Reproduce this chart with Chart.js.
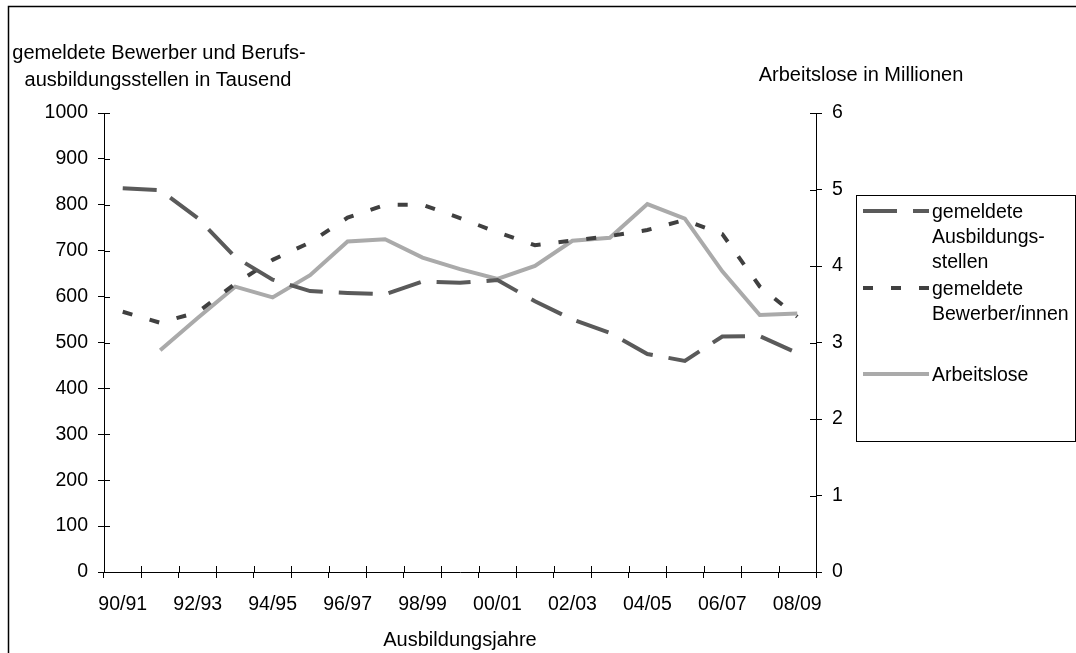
<!DOCTYPE html>
<html>
<head>
<meta charset="utf-8">
<style>
  html, body { margin: 0; padding: 0; background: #fff; }
  #wrap { width: 1076px; height: 653px; position: relative; }
</style>
<script src="https://cdn.jsdelivr.net/npm/chart.js@4/dist/chart.umd.min.js"></script>
</head>
<body>
<div id="wrap"><canvas id="c" width="1076" height="653"></canvas></div>
<script>
// Ausbildungsjahre 1990/91 bis 2008/09
const years = ['90/91','91/92','92/93','93/94','94/95','95/96','96/97','97/98','98/99','99/00',
               '00/01','01/02','02/03','03/04','04/05','05/06','06/07','07/08','08/09'];

// gemeldete Berufsausbildungsstellen (Tausend)
const stellen = [836, 832, 771, 686, 637, 612, 608, 605, 633, 630, 636, 590, 550, 521, 475, 460, 513, 514, 477];

// gemeldete Bewerber/innen (Tausend)
const bewerber = [567, 543, 566, 628, 680, 718, 772, 800, 800, 771, 740, 712, 722, 732, 745, 767, 736, 622, 556];

// Arbeitslose (Millionen), ab 91/92
const arbeitslose = [null, 2.90, 3.32, 3.73, 3.59, 3.88, 4.32, 4.35, 4.11, 3.96, 3.83, 4.00, 4.33, 4.37, 4.81, 4.62, 3.93, 3.36, 3.38];

const leftTicks = [0, 100, 200, 300, 400, 500, 600, 700, 800, 900, 1000];
const rightTicks = [0, 1, 2, 3, 4, 5, 6];

const FONT = '"Liberation Sans", Arial, sans-serif';
const SIZE = 19.5;
const C_STELLEN = '#5a5a5a';
const C_BEWERBER = '#404040';
const C_ARBEITSLOSE = '#aaaaaa';
const DASH_STELLEN = [34, 16];
const DASH_BEWERBER = [10, 18];

// Frame, axis titles, inward tick halves and legend box
const decorations = {
  id: 'decorations',
  afterDraw(chart) {
    const ctx = chart.ctx;
    const area = chart.chartArea;
    const x = chart.scales.x, y = chart.scales.y, y1 = chart.scales.y1;
    ctx.save();

    // outer frame
    ctx.strokeStyle = '#000';
    ctx.lineWidth = 1.5;
    ctx.beginPath();
    ctx.moveTo(8.5, 700);
    ctx.lineTo(8.5, 6.5);
    ctx.lineTo(1100, 6.5);
    ctx.stroke();

    // inward halves of the tick marks
    ctx.lineWidth = 1;
    ctx.strokeStyle = '#000';
    ctx.beginPath();
    y.ticks.forEach((t, i) => {
      const py = Math.round(y.getPixelForTick(i)) + 0.5;
      ctx.moveTo(area.left, py); ctx.lineTo(area.left + 6, py);
    });
    y1.ticks.forEach((t, i) => {
      const py = Math.round(y1.getPixelForTick(i)) + 0.5;
      ctx.moveTo(area.right, py); ctx.lineTo(area.right - 6, py);
    });
    for (let i = 0; i <= years.length; i++) {
      const px = Math.round(x.getPixelForValue(i - 0.5)) + 0.5;
      ctx.moveTo(px, area.bottom); ctx.lineTo(px, area.bottom - 6);
    }
    ctx.stroke();

    // axis titles
    ctx.fillStyle = '#000';
    ctx.font = '20px ' + FONT;
    ctx.textAlign = 'center';
    ctx.textBaseline = 'middle';
    ctx.fillText('gemeldete Bewerber und Berufs-', 159, 53);
    ctx.fillText('ausbildungsstellen in Tausend', 158, 80);
    ctx.fillText('Arbeitslose in Millionen', 861, 75);
    ctx.fillText('Ausbildungsjahre', (area.left + area.right) / 2, 640);

    // legend
    ctx.font = SIZE + 'px ' + FONT;
    ctx.strokeStyle = '#000';
    ctx.lineWidth = 1;
    ctx.strokeRect(856.5, 195.5, 219, 246);
    const entries = [
      { color: C_STELLEN, dash: DASH_STELLEN, y: 211, lines: ['gemeldete', 'Ausbildungs-', 'stellen'] },
      { color: C_BEWERBER, dash: DASH_BEWERBER, y: 288, lines: ['gemeldete', 'Bewerber/innen'] },
      { color: C_ARBEITSLOSE, dash: [], y: 374, lines: ['Arbeitslose'] }
    ];
    entries.forEach(e => {
      ctx.save();
      ctx.strokeStyle = e.color;
      ctx.lineWidth = 4;
      ctx.lineCap = 'butt';
      ctx.setLineDash(e.dash);
      ctx.beginPath();
      ctx.moveTo(863, e.y);
      ctx.lineTo(929, e.y);
      ctx.stroke();
      ctx.restore();
      ctx.fillStyle = '#000';
      ctx.textAlign = 'left';
      e.lines.forEach((l, k) => ctx.fillText(l, 932, e.y + 2 + k * 25));
    });
    ctx.restore();
  }
};

new Chart(document.getElementById('c'), {
  type: 'line',
  data: {
    labels: years,
    datasets: [
      {
        label: 'gemeldete Ausbildungsstellen',
        data: stellen,
        yAxisID: 'y',
        borderColor: C_STELLEN,
        borderWidth: 4,
        borderDash: DASH_STELLEN,
        borderCapStyle: 'butt',
        pointRadius: 0,
        tension: 0
      },
      {
        label: 'gemeldete Bewerber/innen',
        data: bewerber,
        yAxisID: 'y',
        borderColor: C_BEWERBER,
        borderWidth: 4,
        borderDash: DASH_BEWERBER,
        borderCapStyle: 'butt',
        pointRadius: 0,
        tension: 0
      },
      {
        label: 'Arbeitslose',
        data: arbeitslose,
        yAxisID: 'y1',
        borderColor: C_ARBEITSLOSE,
        borderWidth: 4,
        pointRadius: 0,
        tension: 0
      }
    ]
  },
  options: {
    responsive: false,
    animation: false,
    layout: { padding: { top: 113, left: 0, right: 0, bottom: 0 } },
    plugins: { legend: { display: false }, tooltip: { enabled: false } },
    scales: {
      x: {
        type: 'category',
        offset: true,
        afterFit(s) { s.height = 653 - 572; },
        border: { display: true, color: '#000', width: 1 },
        grid: { offset: true, drawOnChartArea: false, drawTicks: true, tickLength: 6, color: '#000' },
        ticks: {
          autoSkip: false,
          maxRotation: 0,
          padding: 15,
          color: '#000',
          font: { family: FONT, size: SIZE },
          callback(v, i) { return i % 2 === 0 ? years[i] : ''; }
        }
      },
      y: {
        position: 'left',
        min: 0, max: 1000,
        afterFit(s) { s.width = 104; },
        afterBuildTicks(s) { s.ticks = leftTicks.map(v => ({ value: v })); },
        border: { display: true, color: '#000', width: 1 },
        grid: { drawOnChartArea: false, drawTicks: true, tickLength: 6, color: '#000' },
        ticks: { padding: 10, color: '#000', font: { family: FONT, size: SIZE }, callback: v => String(v) }
      },
      y1: {
        position: 'right',
        min: 0, max: 6,
        afterFit(s) { s.width = 1076 - 816; },
        afterBuildTicks(s) { s.ticks = rightTicks.map(v => ({ value: v })); },
        border: { display: true, color: '#000', width: 1 },
        grid: { drawOnChartArea: false, drawTicks: true, tickLength: 6, color: '#000' },
        ticks: { padding: 10, color: '#000', font: { family: FONT, size: SIZE }, callback: v => String(v) }
      }
    }
  },
  plugins: [decorations]
});
</script>
</body>
</html>
